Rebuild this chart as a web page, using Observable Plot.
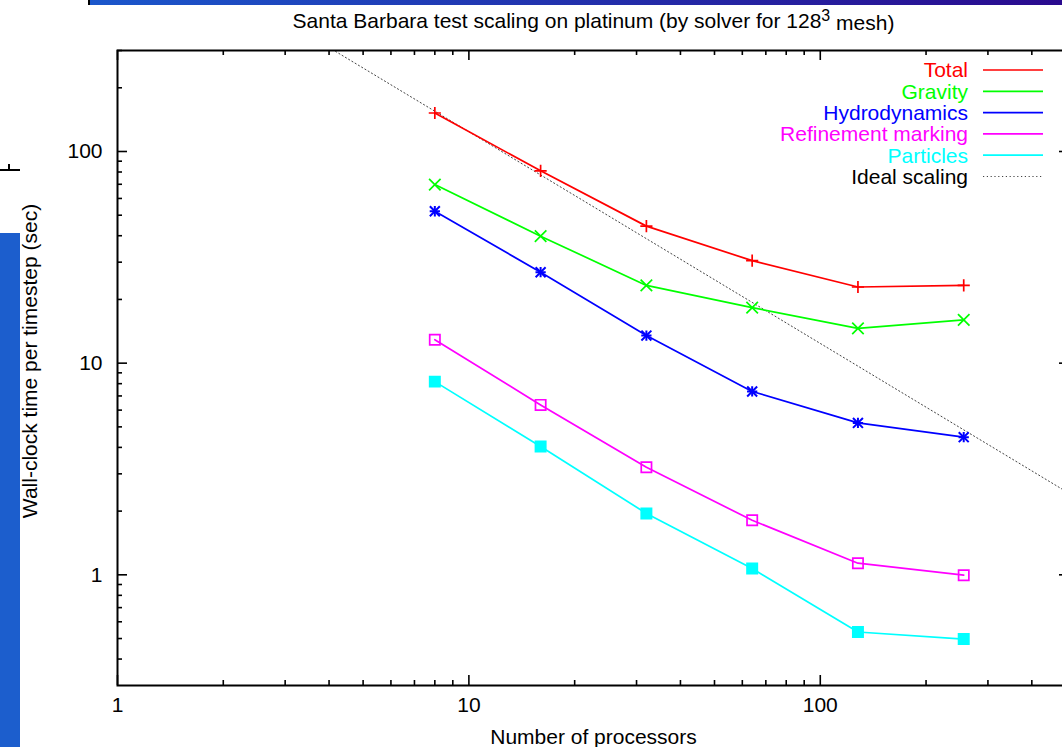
<!DOCTYPE html>
<html><head><meta charset="utf-8">
<script src="https://cdn.jsdelivr.net/npm/d3@7"></script>
<script src="https://cdn.jsdelivr.net/npm/@observablehq/plot@0.6"></script>
<style>
body{margin:0;background:#fff;}
#wrap{position:relative;width:1062px;height:747px;overflow:hidden;background:#fff;font-family:"Liberation Sans",Arial,sans-serif;}
.deco{position:absolute;}
</style></head><body>
<div id="wrap">
  <div class="deco" style="left:88px;top:0;width:2px;height:5px;background:#000"></div>
  <div class="deco" style="left:90px;top:0;width:972px;height:5px;background:linear-gradient(to right,#1b57cb,#2a0a8e)"></div>
  <div class="deco" style="left:0;top:233px;width:20px;height:514px;background:#1c5ecd"></div>
  <div class="deco" style="left:0;top:169px;width:20px;height:2px;background:#000"></div>
  <div class="deco" style="left:8px;top:164px;width:2px;height:6px;background:#000"></div>
</div>
<script>
// ---- data ----
const processors = [8, 16, 32, 64, 128, 256];
const seriesNames = ["Total", "Gravity", "Hydrodynamics", "Refinement marking", "Particles"];
const total = [152, 81, 44.4, 30.5, 22.9, 23.3];
const gravity = [69.8, 39.8, 23.3, 18.3, 14.6, 16.0];
const hydro = [52.2, 26.9, 13.5, 7.35, 5.22, 4.47];
const refinement = [12.9, 6.35, 3.22, 1.81, 1.135, 0.996];
const particles = [8.18, 4.04, 1.95, 1.07, 0.537, 0.497];
const seriesColors = ["#ff0000", "#00ff00", "#0000ff", "#ff00ff", "#00ffff"];
// gnuplot point types: +, x, * (= + and x), open square, filled square
const seriesSymbols = [["plus"], ["times"], ["plus", "times"], ["square"], ["square"]];
const seriesFilled = [false, false, false, false, true];
const idealLabel = "Ideal scaling";
const idealProcessors = [1, 512];
const idealTime = [1240, 2.42];
const xMajor = [1, 10, 100];
const xMinor = [2, 3, 4, 5, 6, 7, 8, 9, 20, 30, 40, 50, 60, 70, 80, 90, 200, 300, 400, 500];
const yMajor = [1, 10, 100];
const yMinor = [0.4, 0.5, 0.6, 0.7, 0.8, 0.9, 2, 3, 4, 5, 6, 7, 8, 9, 20, 30, 40, 50, 60, 70, 80, 90, 200, 300];
const titleMain = "Santa Barbara test scaling on platinum (by solver for 128";
const titleSup = "3";
const titleEnd = " mesh)";
const xTitle = "Number of processors";
const yTitle = "Wall-clock time per timestep (sec)";

const seriesValues = [total, gravity, hydro, refinement, particles];
const rows = seriesNames.flatMap((name, i) =>
  processors.map((p, j) => ({series: name, p, t: seriesValues[i][j]})));
const ideal = idealProcessors.map((p, i) => ({p, t: idealTime[i]}));

const W = 1062, H = 747;
const mL = 117, mT = 50, mB = 62, mR = -7;
const pw = W - mL - mR, ph = H - mT - mB;
const symbolR = {plus: 4.0, times: 5.3, square: 5.8};
const hydroR = {plus: 3.4, times: 4.6};

const marks = [
  Plot.line(ideal, {x: "p", y: "t", stroke: "#444", strokeWidth: 1, strokeDasharray: "1.2 2.6", clip: true}),
];
seriesNames.forEach((name, i) => {
  const d = rows.filter(r => r.series === name);
  marks.push(Plot.line(d, {x: "p", y: "t", stroke: seriesColors[i], strokeWidth: 1.7}));
  seriesSymbols[i].forEach(sym => {
    marks.push(Plot.dot(d, {
      x: "p", y: "t", symbol: sym,
      r: seriesSymbols[i].length > 1 ? hydroR[sym] : symbolR[sym],
      stroke: seriesColors[i], strokeWidth: seriesSymbols[i].length > 1 ? 2 : 1.7,
      fill: seriesFilled[i] ? seriesColors[i] : "none"
    }));
  });
});
// inward ticks on all four sides
const tickStyle = {stroke: "#000", strokeWidth: 1.6};
marks.push(
  Plot.ruleX(xMajor, {x: d => d, insetTop: ph - 10, ...tickStyle}),
  Plot.ruleX(xMinor, {x: d => d, insetTop: ph - 5, ...tickStyle}),
  Plot.ruleX(xMajor, {x: d => d, insetBottom: ph - 10, ...tickStyle}),
  Plot.ruleX(xMinor, {x: d => d, insetBottom: ph - 5, ...tickStyle}),
  Plot.ruleY(yMajor, {y: d => d, insetRight: pw - 10, ...tickStyle}),
  Plot.ruleY(yMinor, {y: d => d, insetRight: pw - 5, ...tickStyle}),
  Plot.ruleY(yMajor, {y: d => d, insetLeft: pw - 10, ...tickStyle}),
  Plot.ruleY(yMinor, {y: d => d, insetLeft: pw - 5, ...tickStyle}),
  Plot.frame({stroke: "#000", strokeWidth: 2}),
  Plot.text(xMajor, {x: d => d, text: d => String(d), frameAnchor: "bottom", dy: 12, lineAnchor: "top", fill: "#000"}),
  Plot.text(yMajor, {y: d => d, text: d => String(d), frameAnchor: "left", dx: -15, textAnchor: "end", fill: "#000"}),
  Plot.text([titleMain], {text: d => d, frameAnchor: "top", dy: -29.5, lineAnchor: "middle", fill: "#000"}),
  Plot.text([xTitle], {text: d => d, frameAnchor: "bottom", dy: 52, lineAnchor: "middle", fill: "#000"}),
  Plot.text([yTitle], {text: d => d, frameAnchor: "left", dx: -87, dy: -7, rotate: -90, textAnchor: "middle", lineAnchor: "middle", fill: "#000"})
);

const chart = Plot.plot({
  width: W, height: H,
  marginLeft: mL, marginTop: mT, marginBottom: mB, marginRight: mR,
  style: {fontFamily: '"Liberation Sans", Arial, sans-serif', fontSize: "21px", background: "transparent", overflow: "hidden"},
  x: {type: "log", domain: [1, 512], axis: null},
  y: {type: "log", domain: [0.3, 300], axis: null},
  marks
});
chart.style.position = "absolute";
chart.style.left = "0";
chart.style.top = "0";

const svg = d3.select(chart);
// superscript in the title
svg.selectAll("text").filter(function() { return this.textContent === titleMain; })
  .each(function() {
    const t = d3.select(this);
    t.append("tspan").attr("dy", "-0.45em").attr("font-size", "16px").text(titleSup);
    t.append("tspan").attr("dy", "0.45em").text(titleEnd);
  });

// legend (top-right, gnuplot style)
const leg = svg.append("g").attr("font-family", '"Liberation Sans", Arial, sans-serif').attr("font-size", 21);
const legNames = [...seriesNames, idealLabel];
const legColors = [...seriesColors, "#000"];
legNames.forEach((name, i) => {
  const yc = 70 + i * 21.3;
  const isIdeal = i === legNames.length - 1;
  leg.append("text").attr("x", 968).attr("y", yc).attr("dy", "0.35em")
    .attr("text-anchor", "end").attr("fill", legColors[i]).text(name);
  leg.append("line").attr("x1", 983).attr("x2", 1043).attr("y1", yc).attr("y2", yc)
    .attr("stroke", isIdeal ? "#444" : legColors[i])
    .attr("stroke-width", isIdeal ? 1 : 1.7)
    .attr("stroke-dasharray", isIdeal ? "1.2 2.6" : null);
});

document.getElementById("wrap").prepend(chart);
</script>
</body></html>
